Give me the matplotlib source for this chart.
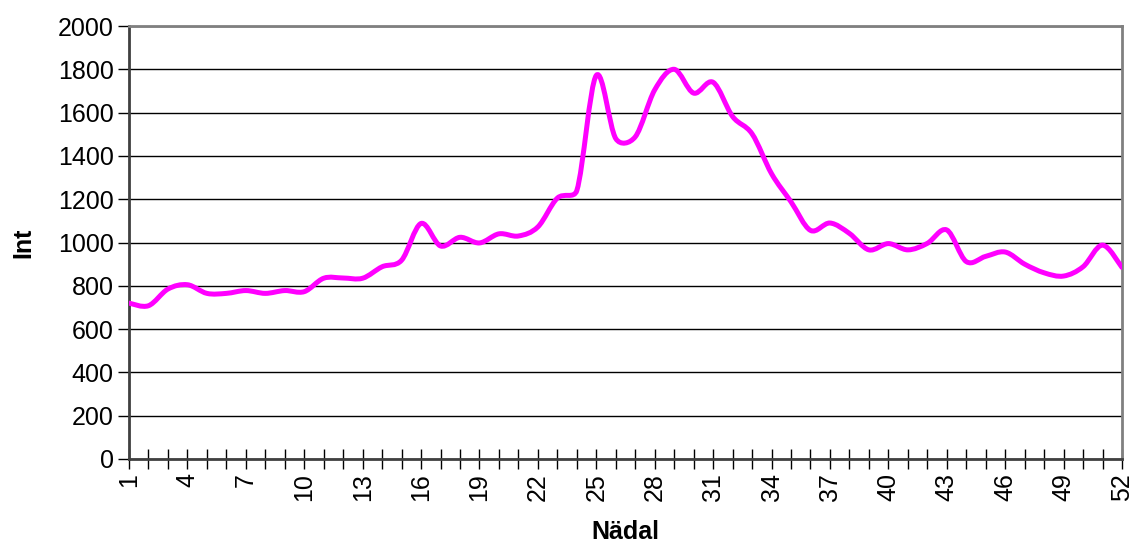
import numpy as np
import matplotlib
matplotlib.use("Agg")
import matplotlib.pyplot as plt
from matplotlib.path import Path
from matplotlib.patches import PathPatch

plt.rcParams['font.family'] = ['Liberation Sans', 'DejaVu Sans']

weeks = list(range(1, 53))
values = [720, 708, 785, 805, 765, 765, 778, 765, 778, 773,
          835, 836, 835, 888, 918, 1088, 984, 1024, 998, 1040,
          1030, 1072, 1205, 1240, 1772, 1480, 1488, 1705, 1800, 1690,
          1740, 1582, 1502, 1318, 1188, 1056, 1090, 1042, 966, 995,
          966, 996, 1058, 912, 936, 956, 900, 860, 845, 888,
          988, 885]
xtick_labels = [str(w) for w in range(1, 53, 3)]
yticks = list(range(0, 2001, 200))


def smooth_path(ax, x, y, tension=1 / 6, max_frac=0.45):
    """Catmull-Rom style Bezier path; each control arm is capped at a
    fraction of the on-screen length of its own segment."""
    data = np.column_stack([x, y]).astype(float)
    pix = ax.transData.transform(data)
    n = len(data)
    seg_len = np.hypot(*(np.diff(pix, axis=0).T))
    out_arm, in_arm = [], []
    for i in range(n):
        prev_i = max(i - 1, 0)
        next_i = min(i + 1, n - 1)
        tan = (data[next_i] - data[prev_i]) * tension
        tan_pix = np.hypot(*((pix[next_i] - pix[prev_i]) * tension))
        a = tan.copy()
        if i > 0 and tan_pix > max_frac * seg_len[i - 1]:
            a *= max_frac * seg_len[i - 1] / tan_pix
        in_arm.append(data[i] - a)
        b = tan.copy()
        if i < n - 1 and tan_pix > max_frac * seg_len[i]:
            b *= max_frac * seg_len[i] / tan_pix
        out_arm.append(data[i] + b)
    verts = [tuple(data[0])]
    codes = [Path.MOVETO]
    for i in range(n - 1):
        verts += [tuple(out_arm[i]), tuple(in_arm[i + 1]), tuple(data[i + 1])]
        codes += [Path.CURVE4] * 3
    return Path(verts, codes)


fig = plt.figure(figsize=(11.35, 5.45), dpi=100)
ax = fig.add_axes([129 / 1135, 1 - 459 / 545, (1122 - 129) / 1135, (459 - 26) / 545])

ax.set_xlim(1, 52)
ax.set_ylim(0, 2000)

ax.set_yticks(yticks)
ax.set_yticklabels([str(v) for v in yticks], fontsize=18)
ax.set_xticks(range(1, 53, 3))
ax.set_xticklabels(xtick_labels, fontsize=18, rotation=90)
ax.set_xticks(weeks, minor=True)

ax.tick_params(axis='y', direction='out', length=8, width=1, pad=3, color='black')
ax.tick_params(axis='x', which='both', direction='inout', length=14, width=1,
               pad=3, color='black')

ax.grid(axis='y', color='black', linewidth=1)
ax.set_axisbelow(True)

for side in ('left', 'bottom'):
    ax.spines[side].set_color('#404040')
    ax.spines[side].set_linewidth(2)
for side in ('right', 'top'):
    ax.spines[side].set_color('#808080')
    ax.spines[side].set_linewidth(2)

patch = PathPatch(smooth_path(ax, weeks, values), facecolor='none',
                  edgecolor='#FF00FF', linewidth=3.6, capstyle='round',
                  joinstyle='round', zorder=3)
ax.add_patch(patch)

ax.set_xlabel('Nädal', fontsize=18, fontweight='bold', labelpad=14)
ax.set_ylabel('Int', fontsize=18, fontweight='bold', labelpad=16)

fig.savefig('out.png', dpi=100, facecolor='white')
